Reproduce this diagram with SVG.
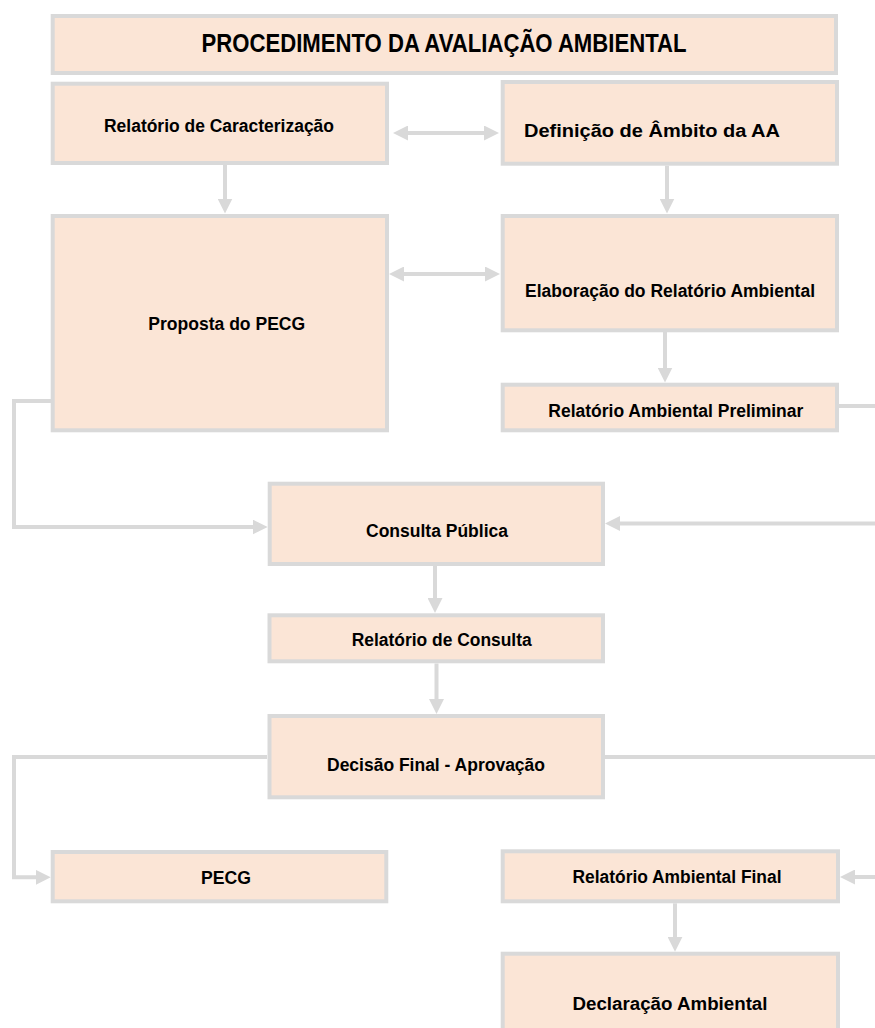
<svg xmlns="http://www.w3.org/2000/svg" width="875" height="1028" viewBox="0 0 875 1028">
<style>
.box{fill:#fbe5d6;stroke:#d9d9d9;stroke-width:4}
.lbl{font-family:"Liberation Sans",Arial,sans-serif;font-weight:bold;font-size:18px;fill:#000;text-anchor:middle}
.ttl{font-size:25px}
.con{fill:none;stroke:#d9d9d9;stroke-width:4}
.arr{marker-end:url(#ah)}
.dbl{marker-start:url(#ah);marker-end:url(#ah)}
</style>
<defs>
<marker id="ah" markerUnits="userSpaceOnUse" markerWidth="15" markerHeight="15" refX="7" refY="7.5" orient="auto-start-reverse">
<path d="M0,0 L15,7.5 L0,15 z" fill="#d9d9d9"/>
</marker>
</defs>
<rect width="875" height="1028" fill="#fff"/>
<g id="connectors">
<line class="con dbl" x1="401" y1="133" x2="491" y2="133"/>
<line class="con dbl" x1="397" y1="274" x2="492" y2="274"/>
<path class="con arr" d="M225,165 V205.5"/>
<path class="con arr" d="M667,165.7 V205.5"/>
<path class="con arr" d="M665,332 V374.5"/>
<path class="con arr" d="M52,401 H14 V527 H259.7"/>
<path class="con" d="M839,406 H877"/>
<path class="con arr" d="M877,523.5 H613"/>
<path class="con arr" d="M435,566 V605"/>
<path class="con arr" d="M436.5,663.5 V706"/>
<path class="con arr" d="M267,757 H14 V877.3 H42.7"/>
<path class="con" d="M605,757 H877"/>
<path class="con arr" d="M877,877 H848"/>
<path class="con arr" d="M675,903.3 V943.7"/>
</g>
<g id="title"><rect class="box" x="52.7" y="16" width="783.3" height="57"/><text class="lbl ttl" x="444" y="52" textLength="485" lengthAdjust="spacingAndGlyphs">PROCEDIMENTO DA AVALIAÇÃO AMBIENTAL</text></g>
<g id="caracterizacao"><rect class="box" x="52.7" y="83.7" width="334.3" height="79.3"/><text class="lbl" x="219" y="131.7" textLength="230" lengthAdjust="spacingAndGlyphs">Relatório de Caracterização</text></g>
<g id="definicao"><rect class="box" x="502.7" y="82" width="334.3" height="81.7"/><text class="lbl" x="652" y="136.7" textLength="256" lengthAdjust="spacingAndGlyphs">Definição de Âmbito da AA</text></g>
<g id="proposta"><rect class="box" x="52.7" y="216" width="334.3" height="214.3"/><text class="lbl" x="226.7" y="330" textLength="157" lengthAdjust="spacingAndGlyphs">Proposta do PECG</text></g>
<g id="elaboracao"><rect class="box" x="502.7" y="216" width="334.3" height="114.3"/><text class="lbl" x="670" y="296.7" textLength="290" lengthAdjust="spacingAndGlyphs">Elaboração do Relatório Ambiental</text></g>
<g id="preliminar"><rect class="box" x="502.7" y="384.7" width="334.3" height="45.6"/><text class="lbl" x="675.8" y="416.7" textLength="255" lengthAdjust="spacingAndGlyphs">Relatório Ambiental Preliminar</text></g>
<g id="consulta"><rect class="box" x="269.7" y="483.7" width="333.3" height="80.3"/><text class="lbl" x="437" y="537" textLength="142" lengthAdjust="spacingAndGlyphs">Consulta Pública</text></g>
<g id="relconsulta"><rect class="box" x="269.5" y="615.3" width="333.5" height="46"/><text class="lbl" x="441.7" y="646" textLength="180" lengthAdjust="spacingAndGlyphs">Relatório de Consulta</text></g>
<g id="decisao"><rect class="box" x="269.5" y="716" width="333.5" height="81.3"/><text class="lbl" x="436" y="770.7" textLength="218" lengthAdjust="spacingAndGlyphs">Decisão Final - Aprovação</text></g>
<g id="pecg"><rect class="box" x="52.7" y="852" width="333.6" height="49.3"/><text class="lbl" x="226" y="884" textLength="50" lengthAdjust="spacingAndGlyphs">PECG</text></g>
<g id="final"><rect class="box" x="502.7" y="851.3" width="335.3" height="50"/><text class="lbl" x="677" y="883.3" textLength="209" lengthAdjust="spacingAndGlyphs">Relatório Ambiental Final</text></g>
<g id="declaracao"><rect class="box" x="502.7" y="953.7" width="335.3" height="100"/><text class="lbl" x="670" y="1010" textLength="195" lengthAdjust="spacingAndGlyphs">Declaração Ambiental</text></g>
</svg>
